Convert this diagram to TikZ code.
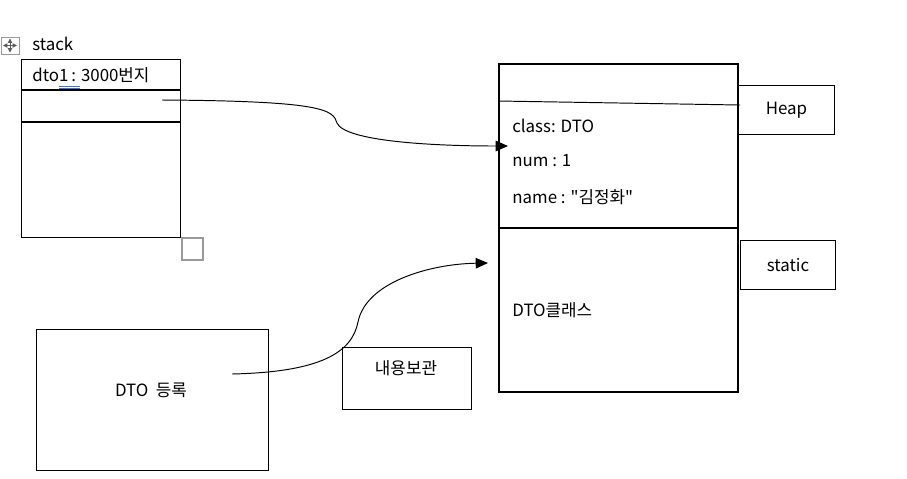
\documentclass[tikz,border=0pt]{standalone}
\usepackage{fontspec}
\setmainfont{Noto Sans CJK KR}[Ligatures=TeXOff]
\usetikzlibrary{arrows.meta,positioning}
\definecolor{handle}{HTML}{9A9A9A}
\definecolor{spell}{HTML}{3A6FD8}
\newcommand{\lbl}{\fontsize{9.6}{11}\selectfont}
\begin{document}
\begin{tikzpicture}[x=0.02cm,y=-0.02cm,
  box/.style={draw,line width=.6pt,inner sep=0pt,anchor=north west},
  bigbox/.style={draw,line width=1.1pt,inner sep=0pt,anchor=north west},
  txt/.style={font=\lbl,inner sep=0pt,anchor=west},
  link/.style={line width=.55pt,-{Triangle[length=7pt,width=6pt]}}]
\useasboundingbox (0,0) rectangle (907,478);
% stack table
\node[font=\lbl,inner sep=0pt,anchor=west] (stacklbl) at (32,44){stack};
\node[box,minimum width=159*0.02cm,minimum height=178*0.02cm] (stack) at (21,59){};
\draw[line width=.6pt] (21,90)--(180,90) (21,122)--(180,122);
\node[txt] (dto) at (32,75){dto1\,: 3000번지};
\draw[spell,line width=.4pt] (59,86)--(80,86) (59,88)--(80,88);
% word table handles
\draw[handle,line width=.5pt] (1,37) rectangle (19,54);
\draw[handle!60!black,line width=.5pt,{Triangle[length=2.5pt,width=2.5pt]}-{Triangle[length=2.5pt,width=2.5pt]}] (3,45.5)--(17,45.5);
\draw[handle!60!black,line width=.5pt,{Triangle[length=2.5pt,width=2.5pt]}-{Triangle[length=2.5pt,width=2.5pt]}] (10,38.5)--(10,52.5);
\draw[handle,line width=.7pt] (182,238) rectangle (203,260);
% heap area
\node[bigbox,minimum width=239*0.02cm,minimum height=328*0.02cm] (heap) at (498,63){};
\draw[line width=1.1pt] (498,228)--(737,228);
\draw[line width=.55pt] (498,101)--(740,105);
\node[txt] (cls) at (512,126){class: DTO};
\node[txt] (num) at (512,161){num : 1};
\node[txt] (name) at (512,197){name : "김정화"};
\node[txt] (dtocls) at (512,310){DTO클래스};
\node[box,minimum width=96*0.02cm,minimum height=49*0.02cm] (heaplbl) at (738,85){};
\node[font=\lbl] at (heaplbl.center){Heap};
\node[box,minimum width=95*0.02cm,minimum height=49*0.02cm] (staticlbl) at (740,240){};
\node[font=\lbl] at (staticlbl.center){static};
% lower boxes
\node[box,minimum width=232*0.02cm,minimum height=141*0.02cm] (reg) at (36,329){};
\node[font=\lbl] (regtxt) at (151,390){DTO\ \ 등록};
\node[box,minimum width=129*0.02cm,minimum height=62*0.02cm] (keep) at (342,347){};
\node[font=\lbl] (keeptxt) at (406,368){내용보관};
% connectors
\coordinate (refstart) at (162,100);
\coordinate (reftip) at (508,146);
\coordinate (regstart) at (232,374);
\coordinate (regtip) at (488,263);
\draw[link] (refstart) .. controls (325,101) and (333,110) .. (337,123) .. controls (345,141) and (430,146) .. (reftip);
\draw[link] (regstart) .. controls (322,372) and (352,352) .. (358,322) .. controls (366,282) and (430,264) .. (regtip);
\end{tikzpicture}
\end{document}
